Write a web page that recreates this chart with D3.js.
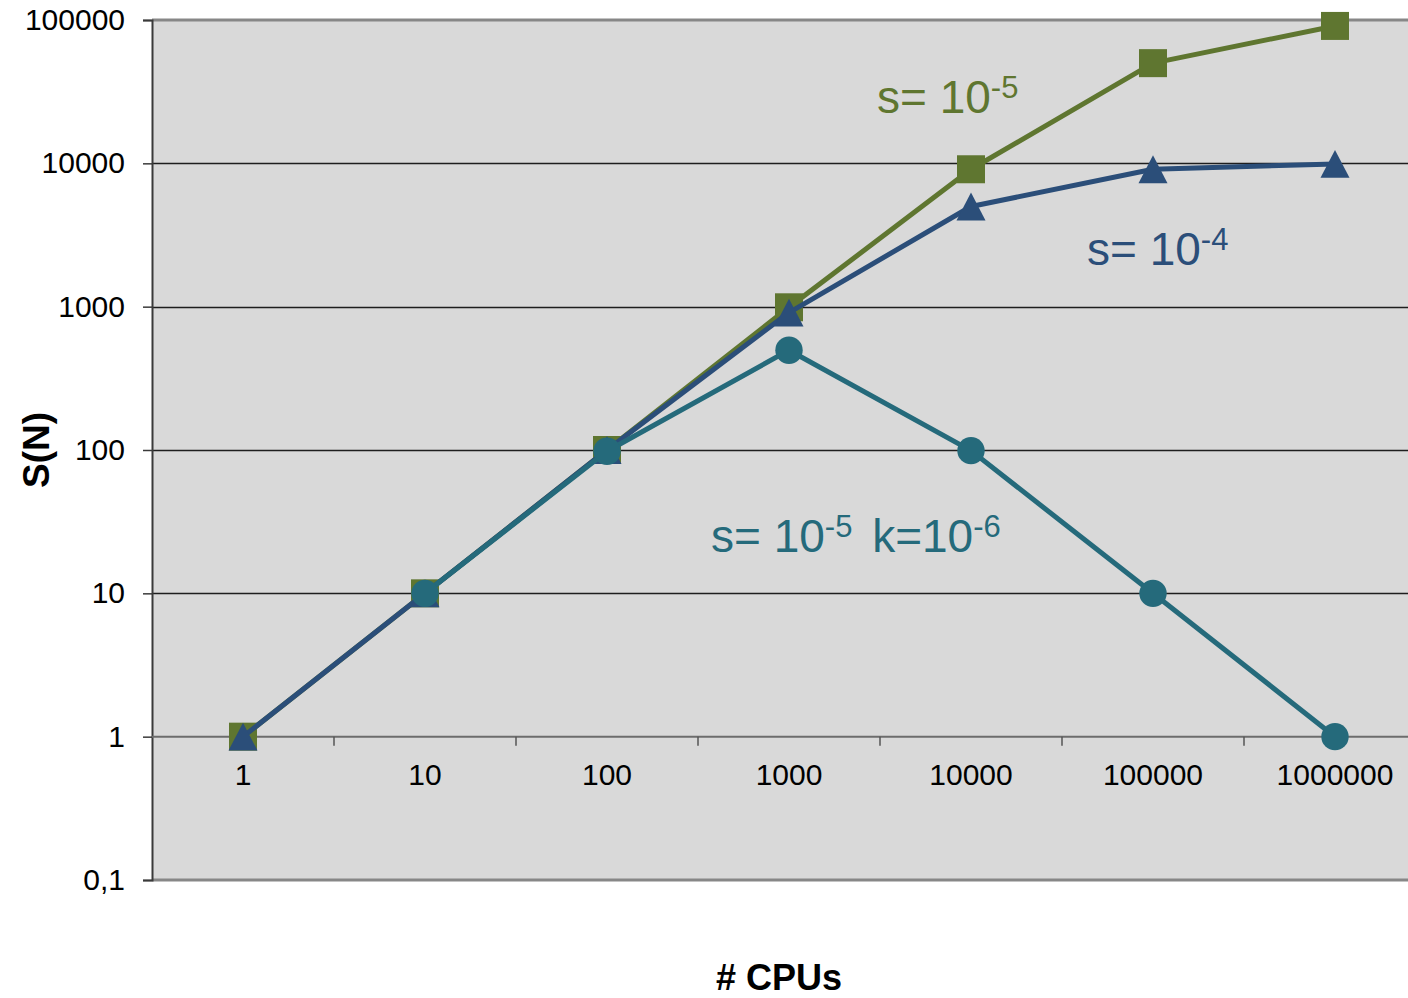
<html>
<head>
<meta charset="UTF-8"/>
<script src="https://d3js.org/d3.v7.min.js"></script>
<title>S(N) vs CPUs</title>
<style>
body{margin:0;background:#fff;}
text{font-family:"Liberation Sans", Arial, sans-serif;}
</style>
</head>
<body>
<svg id='big' width=1408 height=998></svg>
<script>
'use strict';

// categories on the x axis (# CPUs)
var cpus = ['1','10','100','1000','10000','100000','1000000'];
// y ticks
var yTicks = [0.1, 1, 10, 100, 1000, 10000, 100000];
var yTickLabels = ['0,1','1','10','100','1000','10000','100000'];

// series values (null = no point)
var sGreen = [1, 10, 100, 990, 9091, 50000, 90909];      // s = 1e-5
var sBlue  = [1, 10, 100, 909, 5000, 9091, 9901];        // s = 1e-4
var sTeal  = [null, 10, 98, 497, 99, 10, 1];             // s = 1e-5, k = 1e-6

var colGreen = '#5f7630';
var colBlue  = '#2b4e79';
var colTeal  = '#256a7b';

// excel-like triangle: centred on its bounding box
var boxTriangle = {
	draw: function(ctx, size){
		var w = Math.sqrt(size), h = w * 0.96;
		ctx.moveTo(0, -h/2);
		ctx.lineTo(w/2, h/2);
		ctx.lineTo(-w/2, h/2);
		ctx.closePath();
	}
};

function init(){
	var svg = d3.select('#big');
	svg.x = d3.scaleBand().domain(cpus).range([152, 1426]).padding(0);
	svg.y = d3.scaleLog().domain([0.1, 100000]).range([880, 20]);
	svg.cx = function(c){ return svg.x(c) + svg.x.bandwidth()/2; };
	return svg;
}

function drawFrame(svg){
	var x = svg.x, y = svg.y;
	var left = x.range()[0], right = x.range()[1];

	// plot area
	svg.append('rect')
	.attr('x', left)
	.attr('y', y(100000))
	.attr('width', right-left)
	.attr('height', y(0.1)-y(100000))
	.attr('fill', '#d9d9d9');

	// gridlines
	svg.selectAll('.grid')
	.data(yTicks.filter(function(d){ return d > 1 && d < 100000; }))
	.enter()
	.append('line')
	.attr('class', 'grid')
	.attr('x1', left)
	.attr('x2', right)
	.attr('y1', function(d){ return Math.round(y(d)) + 0.5; })
	.attr('y2', function(d){ return Math.round(y(d)) + 0.5; })
	.attr('stroke', '#1e1e1e')
	.attr('stroke-width', 1.3);

	// top and bottom border
	[100000, 0.1].forEach(function(v){
		svg.append('line')
		.attr('x1', left)
		.attr('x2', right)
		.attr('y1', y(v))
		.attr('y2', y(v))
		.attr('stroke', '#878787')
		.attr('stroke-width', 3);
	});

	// y axis
	var yAxis = d3.axisLeft(y)
	.tickValues(yTicks)
	.tickSize(9)
	.tickPadding(18)
	.tickFormat(function(d, i){ return yTickLabels[i]; });

	var gy = svg.append('g')
	.attr('class', 'axis y')
	.attr('transform', 'translate(' + left + ',0)')
	.call(yAxis);
	gy.select('.domain').attr('stroke', '#3a3a3a').attr('stroke-width', 2);
	gy.selectAll('.tick line').attr('stroke', '#3a3a3a').attr('stroke-width', 1.5);
	gy.selectAll('.tick text')
	.attr('font-size', 30)
	.attr('font-family', '"Liberation Sans", Arial, sans-serif')
	.attr('fill', '#000');

	// x axis (crosses at y = 1), ticks between categories
	var y0 = y(1);
	svg.append('line')
	.attr('x1', left)
	.attr('x2', right)
	.attr('y1', y0)
	.attr('y2', y0)
	.attr('stroke', '#6c6c6c')
	.attr('stroke-width', 2);

	svg.selectAll('.xtick')
	.data(cpus.slice(1))
	.enter()
	.append('line')
	.attr('class', 'xtick')
	.attr('x1', function(d){ return x(d); })
	.attr('x2', function(d){ return x(d); })
	.attr('y1', y0)
	.attr('y2', y0 + 9)
	.attr('stroke', '#555')
	.attr('stroke-width', 1.5);

	svg.selectAll('.xlabel')
	.data(cpus)
	.enter()
	.append('text')
	.attr('class', 'xlabel')
	.attr('x', function(d){ return svg.cx(d); })
	.attr('y', y0 + 48)
	.attr('text-anchor', 'middle')
	.attr('font-size', 30)
	.attr('fill', '#000')
	.text(function(d){ return d; });

	// axis titles
	svg.append('text')
	.attr('x', 779)
	.attr('y', 990)
	.attr('text-anchor', 'middle')
	.attr('font-size', 36)
	.attr('font-weight', 'bold')
	.text('# CPUs');

	svg.append('text')
	.attr('transform', 'translate(49,450) rotate(-90)')
	.attr('text-anchor', 'middle')
	.attr('font-size', 37)
	.attr('font-weight', 'bold')
	.text('S(N)');
}

function drawSeries(svg, values, color, shape, size){
	var pts = cpus.map(function(c, i){ return {c: c, v: values[i]}; })
	.filter(function(d){ return d.v != null; });

	var line = d3.line()
	.x(function(d){ return svg.cx(d.c); })
	.y(function(d){ return svg.y(d.v); });

	svg.append('path')
	.datum(pts)
	.attr('d', line)
	.attr('fill', 'none')
	.attr('stroke', color)
	.attr('stroke-width', 5)
	.attr('stroke-linejoin', 'round');

	var sym = d3.symbol().type(shape).size(size);

	svg.selectAll(null)
	.data(pts)
	.enter()
	.append('path')
	.attr('d', sym)
	.attr('transform', function(d){
		return 'translate(' + svg.cx(d.c) + ',' + svg.y(d.v) + ')';
	})
	.attr('fill', color);
}

// parts: plain text and superscripts
function label(svg, x, y, parts, color){
	var t = svg.append('text')
	.attr('x', x)
	.attr('y', y)
	.attr('fill', color)
	.attr('font-size', 46);
	var raised = 0;
	parts.forEach(function(p){
		var ts = t.append('tspan');
		if(p.sup){
			ts.attr('font-size', 31).attr('dy', -15 - raised).text(p.sup);
			raised = -15;
		}else{
			ts.attr('dy', -raised).attr('dx', p.dx || 0).text(p.txt);
			raised = 0;
		}
	});
}

function main(){
	var svg = init();
	drawFrame(svg);
	drawSeries(svg, sGreen, colGreen, d3.symbolSquare, 784);
	drawSeries(svg, sBlue, colBlue, boxTriangle, 841);
	drawSeries(svg, sTeal, colTeal, d3.symbolCircle, 590);

	label(svg, 877, 113, [{txt:'s= 10'}, {sup:'-5'}], colGreen);
	label(svg, 1087, 265, [{txt:'s= 10'}, {sup:'-4'}], colBlue);
	label(svg, 711, 552, [{txt:'s= 10'}, {sup:'-5'}, {txt:' k=10', dx:7}, {sup:'-6'}], colTeal);
	return svg;
}

var svg = main();
</script>
</body>
</html>
